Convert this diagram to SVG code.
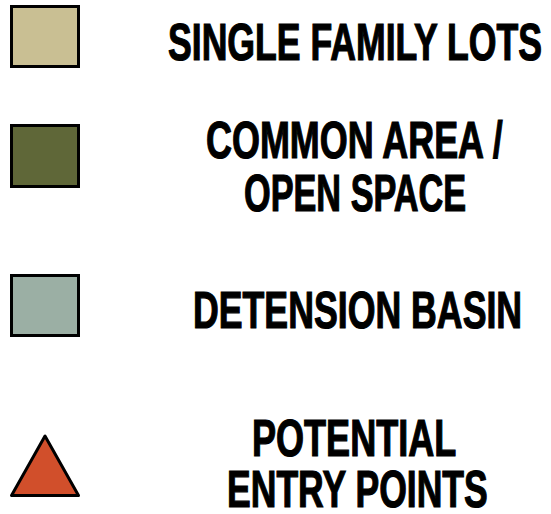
<svg xmlns="http://www.w3.org/2000/svg" width="551" height="514" viewBox="0 0 551 514">
  <style>
    .sw { stroke: #000; stroke-width: 3; }
    .lbl { font-family: "Liberation Sans", Arial, sans-serif; font-weight: bold; font-size: 51px; fill: #000; stroke: #000; stroke-width: 1.2; }
  </style>
  <rect width="551" height="514" fill="#fff"/>
  <g id="single-family-lots">
    <rect class="sw" x="11.5" y="6.5" width="67" height="60" fill="#C9BF93"/>
    <text class="lbl" transform="translate(168 60) scale(0.69 1)" textLength="542" lengthAdjust="spacingAndGlyphs">SINGLE FAMILY LOTS</text>
  </g>
  <g id="common-area">
    <rect class="sw" x="11.5" y="125.5" width="67" height="61" fill="#5F6738"/>
    <text class="lbl" transform="translate(206 158) scale(0.69 1)" textLength="430" lengthAdjust="spacingAndGlyphs">COMMON AREA /</text>
    <text class="lbl" transform="translate(244 211) scale(0.69 1)" textLength="322" lengthAdjust="spacingAndGlyphs">OPEN SPACE</text>
  </g>
  <g id="detension-basin">
    <rect class="sw" x="11.5" y="275.5" width="67" height="60" fill="#9BAFA4"/>
    <text class="lbl" transform="translate(193 328) scale(0.69 1)" textLength="477" lengthAdjust="spacingAndGlyphs">DETENSION BASIN</text>
  </g>
  <g id="entry-points">
    <polygon class="sw" points="45,436 11.5,495.5 78.5,495.5" fill="#D14F2B" stroke-linejoin="round"/>
    <text class="lbl" transform="translate(252 456) scale(0.69 1)" textLength="296" lengthAdjust="spacingAndGlyphs">POTENTIAL</text>
    <text class="lbl" transform="translate(227 507) scale(0.69 1)" textLength="378" lengthAdjust="spacingAndGlyphs">ENTRY POINTS</text>
  </g>
  <g id="connectors"/>
</svg>
